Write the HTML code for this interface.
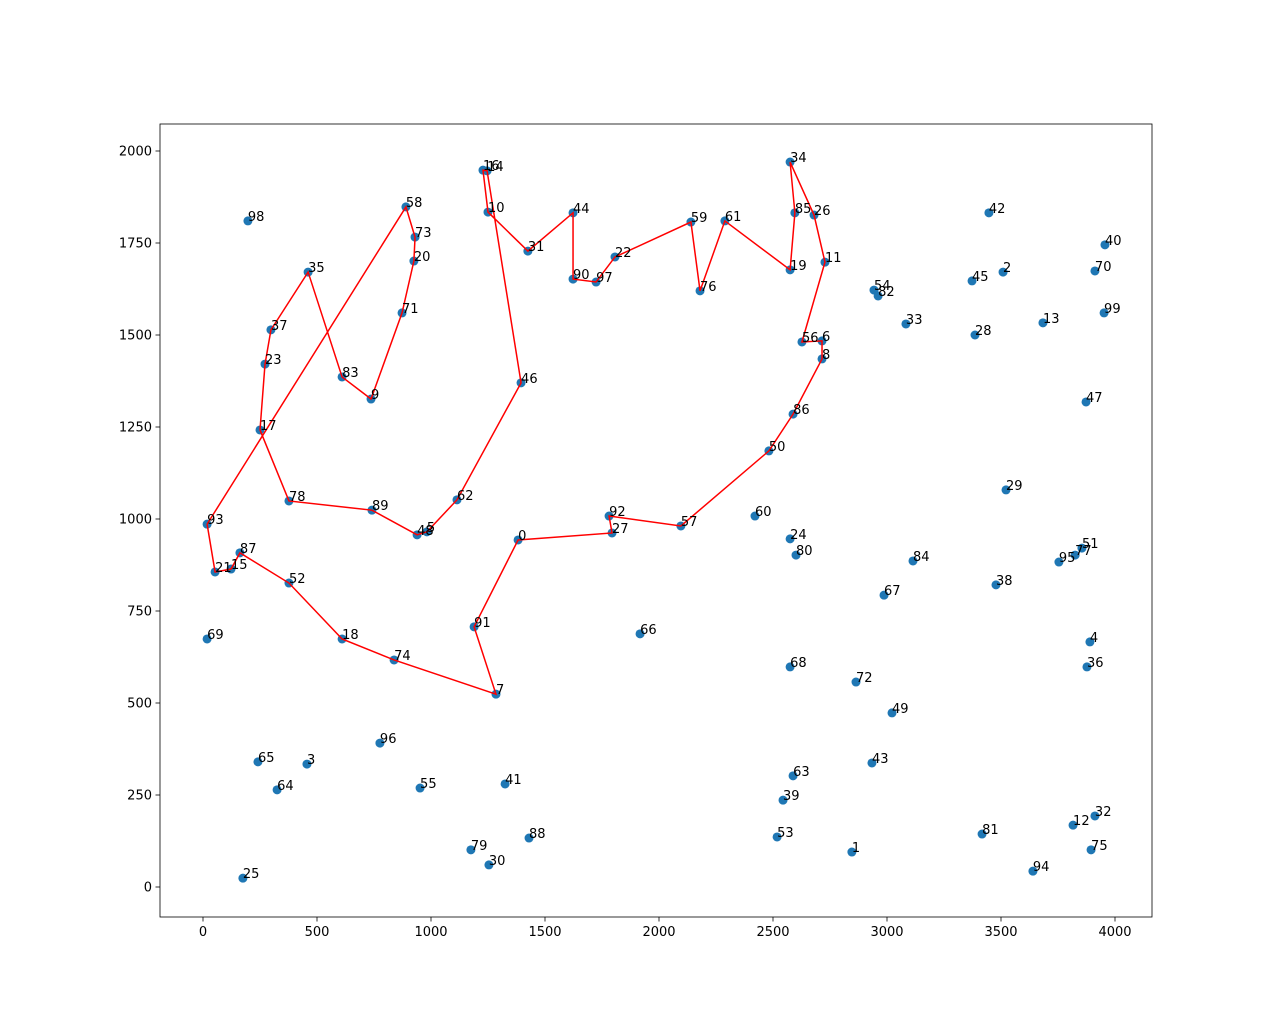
<!DOCTYPE html>
<html><head><meta charset="utf-8"><style>
body{margin:0;background:#fff;}
svg text{font-family:"DejaVu Sans","Liberation Sans",sans-serif;}
</style></head><body>
<svg id="chart" width="1280" height="1030" xmlns="http://www.w3.org/2000/svg">
<rect x="0" y="0" width="1280" height="1030" fill="#fff"/>
<g id="plot"></g>
</svg>
<script>
const xs=[1382,2846,3509,456,3890,982,2715,1285,2715,737,1250,2728,3816,3684,1246,123,1228,250,610,2575,925,53,1807,272,2575,175,2680,1794,3386,3522,1254,1425,3912,3083,2575,461,3877,298,3478,2544,3956,1325,3447,2934,1623,3373,1395,3873,939,3022,2482,3855,377,2518,2943,952,2627,2096,890,2140,2421,2289,1114,2588,325,241,1917,2987,2575,18,3912,873,2864,930,838,3895,2180,3825,377,1175,2601,3417,2961,610,3114,2596,2588,162,1430,741,1623,1189,1781,18,3640,3754,776,1724,197,3952];
const ys=[943,95,1671,334,666,965,1484,524,1435,1326,1834,1698,168,1533,1946,864,1948,1242,674,1677,1701,856,1712,1421,946,24,1826,962,1500,1079,60,1728,193,1530,1970,1671,598,1514,821,236,1745,280,1832,337,1832,1647,1370,1318,957,473,1185,921,826,136,1622,269,1481,981,1848,1807,1008,1810,1052,302,264,340,688,793,598,674,1674,1560,557,1766,617,101,1620,902,1049,101,902,144,1606,1386,886,1832,1285,908,133,1024,1652,707,1008,986,43,883,391,1644,1810,1560];
const route=[93,21,15,87,52,18,74,7,91,0,27,92,57,50,86,8,6,56,11,26,34,85,19,61,76,59,22,97,90,44,31,10,16,14,46,62,5,48,89,78,17,23,37,35,83,9,71,20,73,58,93];
const xTicks=[0,500,1000,1500,2000,2500,3000,3500,4000];
const yTicks=[0,250,500,750,1000,1250,1500,1750,2000];
const L=160,R=1152,T=124,B=917;
const X=v=>203+v*0.228;
const Y=v=>887-v*0.368;
const NS='http://www.w3.org/2000/svg';
const g=document.getElementById('plot');
function mk(tag,attrs){const e=document.createElementNS(NS,tag);for(const k in attrs)e.setAttribute(k,attrs[k]);g.appendChild(e);return e;}
// ticks
xTicks.forEach(t=>{
  const l=mk('line',{x1:X(t),x2:X(t),y1:B,y2:B+4.5,stroke:'#000','stroke-width':0.8});
  
  
  const tx=mk('text',{x:X(t),y:B+19,'text-anchor':'middle','font-size':13});
  tx.textContent=t;
  
  
});
yTicks.forEach(t=>{
  const l=mk('line',{x1:L-4.5,x2:L,y1:Y(t),y2:Y(t),stroke:'#000','stroke-width':0.8});
  
  
  const tx=mk('text',{x:L-8,y:Y(t)+4.5,'text-anchor':'end','font-size':13});
  tx.textContent=t;
  
  
});
// points
xs.forEach((v,i)=>{
  const c=mk('circle',{cx:X(v),cy:Y(ys[i]),r:4.5,fill:'#1f77b4'});
  
  
});
// route
const pts=route.map(i=>X(xs[i])+','+Y(ys[i])).join(' ');
const pl=mk('polyline',{points:pts,fill:'none',stroke:'#ff0000','stroke-width':1.5});


// labels
xs.forEach((v,i)=>{
  const t=mk('text',{x:X(v),y:Y(ys[i]),'font-size':13});
  t.textContent=i;
  
  
});
const fr=mk('rect',{x:L,y:T,width:R-L,height:B-T,fill:'none',stroke:'#000','stroke-width':0.8});


</script>
</body></html>
